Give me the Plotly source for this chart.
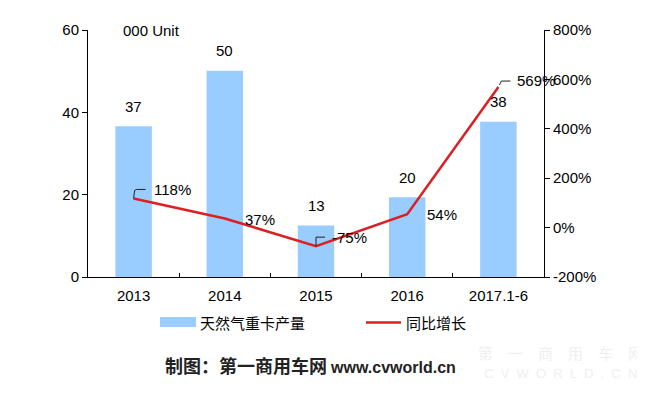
import plotly.graph_objects as go

# ---- data ----
categories = ["2013", "2014", "2015", "2016", "2017.1-6"]
production = [36.6, 50.1, 12.5, 19.4, 37.7]          # 000 units
production_labels = ["37", "50", "13", "20", "38"]
growth = [118, 37, -75, 54, 569]                      # %
growth_labels = ["118%", "37%", "-75%", "54%", "569%"]
left_ticks = [0, 20, 40, 60]
right_ticks = [-200, 0, 200, 400, 600, 800]
right_tick_text = ["-200%", "0%", "200%", "400%", "600%", "800%"]

# ---- styling / placement (pixels in the page) ----
BAR_COLOR = "#99CCFF"
LINE_COLOR = "#DC1F22"
FONT = "Liberation Sans, Arial, Noto Sans CJK SC, sans-serif"
CJK = "Noto Sans CJK SC, Liberation Sans, sans-serif"
W, H = 645, 397
BODY = 8                      # default page body margin
L, R, T, B = 88, 101, 30, 120  # plot area edges in page pixels
PW, PH = W - L - R, H - T - B

def px(x):
    return (x - L) / PW

def py(y):
    return (H - B - y) / PH

growth_label_shift = [(18, 9), (18, -1), (14, 9), (18, 0), (17, 7)]
leader_paths = ["M0,0 L1,8 L3,9 L12,9", None, "M0,0 L0,9 L9,9", None, "M1,2 L3,6 L12,6"]

fig = go.Figure()
fig.add_trace(go.Bar(x=categories, y=production, marker_color=BAR_COLOR,
                     marker_line_width=0, name="天然气重卡产量", showlegend=False,
                     yaxis="y"))
fig.add_trace(go.Scatter(x=categories, y=growth, mode="lines",
                         line=dict(color=LINE_COLOR, width=2.5),
                         name="同比增长", showlegend=False, yaxis="y2"))

annotations = []
for i, (v, t) in enumerate(zip(production, production_labels)):
    annotations.append(dict(x=i, y=v, xref="x", yref="y", text=t, showarrow=False,
                            xanchor="center", yanchor="middle",
                            yshift=20, font=dict(size=15, color="#000", family=FONT)))
for i, (v, t, (dx, dy)) in enumerate(zip(growth, growth_labels, growth_label_shift)):
    annotations.append(dict(x=i, y=v, xref="x", yref="y2", text=t, showarrow=False,
                            xanchor="left", yanchor="middle", xshift=dx, yshift=dy,
                            font=dict(size=15, color="#000", family=FONT)))

def paper_note(x, y, text, font, xanchor="center"):
    annotations.append(dict(x=px(x), y=py(y), xref="paper", yref="paper",
                            xanchor=xanchor, yanchor="middle", text=text,
                            showarrow=False, font=font))

paper_note(121, 30, "000 Unit", dict(size=15, color="#000", family=FONT), "left")
# legend texts
paper_note(198, 322, "天然气重卡产量", dict(size=15, color="#000", family=CJK), "left")
paper_note(404, 322, "同比增长", dict(size=15, color="#000", family=CJK), "left")
# footer
paper_note(310, 365,
           "<b>制图：第一商用车网 <span style='font-family:Liberation Sans, Arial;font-size:16px'>www.cvworld.cn</span></b>",
           dict(size=18, color="#222", family=CJK))
# watermark
paper_note(560, 352, "第　一　商　用　车　网", dict(size=15, color="#EFEFEF", family=CJK))
paper_note(560, 373, "C  V  W  O  R  L  D  .  C  N", dict(size=13, color="#EFEFEF", family=FONT))

shapes = []
for i, (v, p) in enumerate(zip(growth, leader_paths)):
    if p:
        shapes.append(dict(type="path", xref="x", yref="y2", xsizemode="pixel",
                           ysizemode="pixel", xanchor=i, yanchor=v, path=p,
                           line=dict(color="#222", width=1)))
# legend symbols
shapes.append(dict(type="rect", xref="paper", yref="paper", x0=px(160), x1=px(196),
                   y0=py(327), y1=py(317), fillcolor=BAR_COLOR, line_width=0))
shapes.append(dict(type="line", xref="paper", yref="paper", x0=px(366), x1=px(401),
                   y0=py(322.5), y1=py(322.5), line=dict(color=LINE_COLOR, width=2.5)))

axis_font = dict(size=15, color="#000", family=FONT)
fig.update_layout(
    width=W - BODY, height=H - BODY,
    margin=dict(l=L - BODY, r=R, t=T - BODY, b=B, pad=0),
    paper_bgcolor="white", plot_bgcolor="white",
    bargap=0.6,
    xaxis=dict(type="category", categoryorder="array", categoryarray=categories,
               range=[-0.5, len(categories) - 0.5],
               showline=True, linecolor="#000", linewidth=1,
               ticks="inside", ticklen=4, tickcolor="#000", tickson="boundaries",
               ticklabelstandoff=5,
               tickfont=axis_font, showgrid=False, zeroline=False),
    yaxis=dict(range=[0, 60], tickvals=left_ticks, showline=True, linecolor="#000",
               linewidth=1, ticks="outside", ticklen=5, tickcolor="#000",
               tickfont=axis_font, showgrid=False, zeroline=False),
    yaxis2=dict(range=[-200, 800], tickvals=right_ticks, ticktext=right_tick_text,
                overlaying="y", side="right", showline=True, linecolor="#000",
                linewidth=1, ticks="outside", ticklen=5, tickcolor="#000",
                tickfont=axis_font, showgrid=False, zeroline=False),
    yaxis3=dict(range=[0, 60], tickvals=left_ticks, overlaying="y", side="left",
                anchor="x", showline=False, ticks="inside", ticklen=7, tickcolor="#000",
                showticklabels=False, showgrid=False, zeroline=False),
    yaxis4=dict(range=[-200, 800], tickvals=right_ticks, overlaying="y", side="right",
                anchor="x", showline=False, ticks="inside", ticklen=7, tickcolor="#000",
                showticklabels=False, showgrid=False, zeroline=False),
    annotations=annotations,
    shapes=shapes,
    showlegend=False,
)

fig.write_html("out.html")
